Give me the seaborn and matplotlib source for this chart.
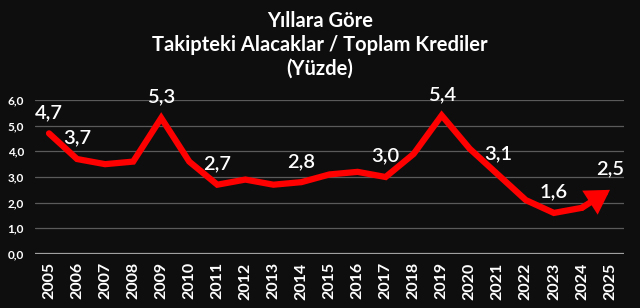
import matplotlib
matplotlib.use('Agg')
import matplotlib.pyplot as plt
import seaborn as sns
import pandas as pd

years = ['2005', '2006', '2007', '2008', '2009', '2010', '2011', '2012', '2013', '2014',
         '2015', '2016', '2017', '2018', '2019', '2020', '2021', '2022', '2023', '2024', '2025']
values = [4.7, 3.7, 3.5, 3.6, 5.3, 3.6, 2.7, 2.9, 2.7, 2.8,
          3.1, 3.2, 3.0, 3.9, 5.4, 4.1, 3.1, 2.1, 1.6, 1.8, 2.5]
label_years = ['2005', '2006', '2009', '2011', '2014', '2017', '2019', '2021', '2023', '2025']
yticks = [0, 1, 2, 3, 4, 5, 6]
ytick_labels = ['0,0', '1,0', '2,0', '3,0', '4,0', '5,0', '6,0']
title_lines = ['Yıllara Göre', 'Takipteki Alacaklar / Toplam Krediler', '(Yüzde)']

BG = '#0e0e0e'
RED = '#ff0000'

sns.set_theme(style='dark')
plt.rcParams['font.family'] = ['Lato', 'DejaVu Sans']

df = pd.DataFrame({'year': years, 'value': values})
df['pos'] = range(len(df))

fig = plt.figure(figsize=(6.4, 3.08), dpi=100, facecolor=BG)
ax = fig.add_axes([35 / 640, 1 - 254 / 308, (624 - 35) / 640, (254 - 100) / 308])
ax.set_facecolor(BG)

for yv in yticks[1:]:
    ax.axhline(yv, color='#5a5a5a', lw=0.9, zorder=1)
ax.axhline(0, color='#a0a0a0', lw=1.6, zorder=1)

body = df.iloc[:-1]
sns.lineplot(data=body, x='pos', y='value', ax=ax, color=RED, lw=4.5, zorder=3,
             solid_joinstyle='miter', solid_capstyle='round')
ax.annotate('', xy=(df['pos'].iloc[-1], df['value'].iloc[-1]),
            xytext=(df['pos'].iloc[-2], df['value'].iloc[-2]),
            arrowprops=dict(arrowstyle='-|>,head_length=1.0,head_width=0.6', color=RED,
                            lw=4.5, shrinkA=0, shrinkB=0, mutation_scale=10.5,
                            capstyle='round', joinstyle='miter'),
            zorder=3)

for yr in label_years:
    row = df[df['year'] == yr].iloc[0]
    ax.annotate(f"{row['value']:.1f}".replace('.', ','), xy=(row['pos'], row['value']),
                xytext=(0, 15), textcoords='offset points', ha='center', va='center',
                color='white', fontsize=14.5, fontweight='semibold', zorder=4,
                annotation_clip=False)

ax.set_xlim(-0.5, len(years) - 0.5)
ax.set_ylim(0, 6)
ax.set_xticks(df['pos'])
ax.set_xticklabels(years, rotation=90, color='white', fontsize=11.5, fontweight='bold')
ax.set_yticks(yticks)
ax.set_yticklabels(ytick_labels, color='white', fontsize=8.5, fontweight='bold')
ax.tick_params(axis='both', length=0)
ax.tick_params(axis='y', pad=8)
ax.tick_params(axis='x', pad=6)
ax.set_xlabel('')
ax.set_ylabel('')
ax.grid(False)
for s in ax.spines.values():
    s.set_visible(False)

for i, t in enumerate(title_lines):
    fig.text(0.5, 1 - (21 + 24 * i) / 308, t, ha='center', va='center', color='white',
             fontsize=14.5, fontweight='bold')

fig.savefig('out.png', dpi=100, facecolor=BG)
